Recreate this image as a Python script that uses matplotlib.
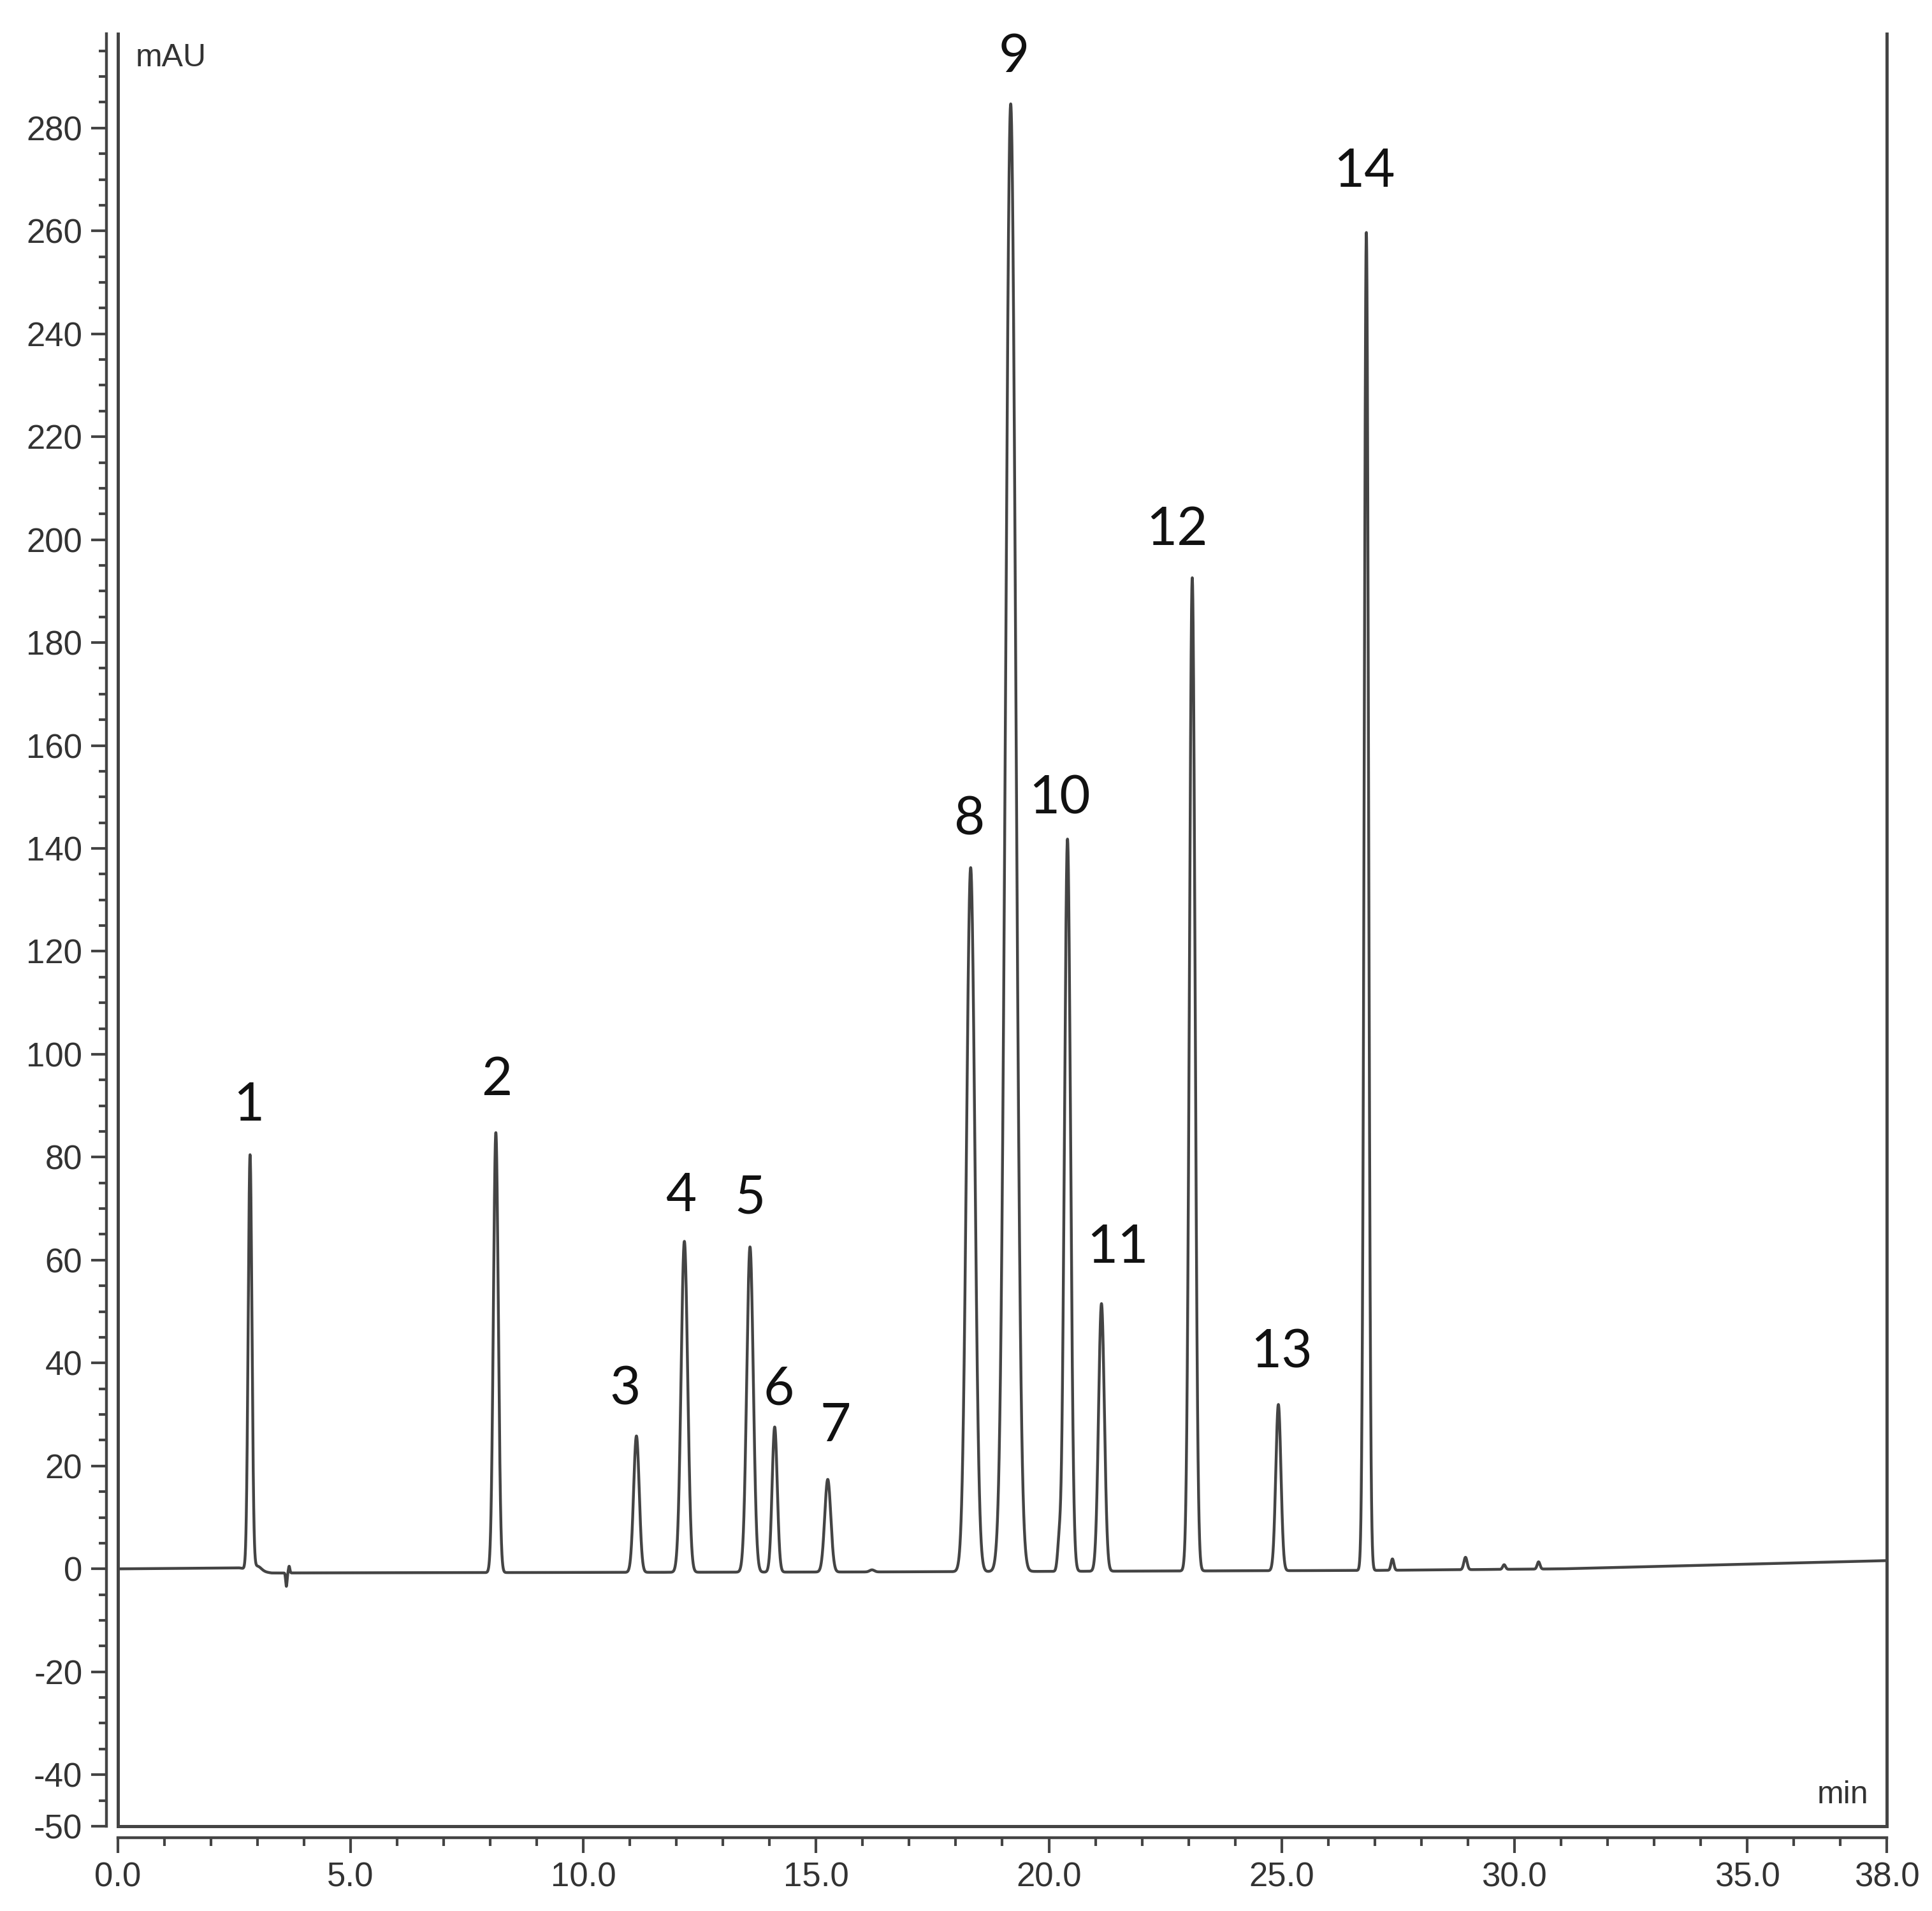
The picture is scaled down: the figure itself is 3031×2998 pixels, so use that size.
#!/usr/bin/env python3
import numpy as np
import matplotlib
matplotlib.use("Agg")
import matplotlib.pyplot as plt
from matplotlib import font_manager
from matplotlib.ticker import FixedLocator, MultipleLocator

# Peak table: retention time (min), height (mAU), width sigma (min)
peak_labels = ["1", "2", "3", "4", "5", "6", "7", "8", "9", "10", "11", "12", "13", "14"]
peak_rt = [2.84, 8.12, 11.14, 12.17, 13.58, 14.11, 15.25, 18.32, 19.18, 20.40, 21.13, 23.08, 24.93, 26.82]
peak_height = [80.5, 85.5, 26.5, 64.3, 63.2, 28.2, 18.0, 136.8, 285.2, 142.3, 52.0, 193.0, 32.3, 260.0]
peak_sigma = [0.040, 0.052, 0.060, 0.070, 0.070, 0.055, 0.065, 0.090, 0.110, 0.065, 0.062, 0.060, 0.055, 0.046]

# label anchor positions (data units)
label_x = [2.81, 8.14, 10.90, 12.09, 13.58, 14.19, 15.41, 18.30, 19.25, 20.23, 21.48, 22.75, 25.00, 26.78]
label_y = [89.9, 94.9, 34.8, 72.4, 71.9, 34.8, 27.6, 145.5, 293.7, 149.6, 62.3, 201.8, 42.0, 271.4]

# minor features: shoulder / spikes / small late peaks
minor_rt = [3.00, 3.62, 3.68, 16.20, 20.22, 27.38, 28.95, 29.78, 30.52]
minor_height = [0.9, -2.6, 1.3, 0.4, 5.0, 2.2, 2.4, 0.9, 1.4]
minor_sigma = [0.08, 0.015, 0.015, 0.05, 0.035, 0.03, 0.035, 0.03, 0.03]

# baseline drift points
base_t = [0.0, 2.6, 3.3, 16.0, 27.0, 31.0, 38.0]
base_v = [0.0, 0.2, -0.8, -0.6, -0.3, 0.0, 1.6]

names = {f.name for f in font_manager.fontManager.ttflist}
tick_font = "Liberation Sans Narrow" if "Liberation Sans Narrow" in names else "Liberation Sans"
plt.rcParams["axes.unicode_minus"] = False

t = np.linspace(0, 38, 30001)
signal = np.interp(t, base_t, base_v)
for rt, h, s in zip(peak_rt + minor_rt, peak_height + minor_height, peak_sigma + minor_sigma):
    signal += h * np.exp(-0.5 * ((t - rt) / s) ** 2)

fig = plt.figure(figsize=(30.31, 29.98), dpi=100)
ax = fig.add_axes([0.0610, 0.0444, 0.9156, 0.9379])

ax.plot(t, signal, color="#444444", linewidth=3.2, solid_joinstyle="round")

for lab, x, y in zip(peak_labels, label_x, label_y):
    ax.text(x, y, lab, ha="center", va="center", fontsize=60, family="Lato", color="#111111")

ax.set_xlim(0, 38)
ax.set_ylim(-50, 298.3)

# offset axis lines like the instrument software
for side in ["top", "right"]:
    ax.spines[side].set_visible(False)
for side in ["left", "bottom"]:
    ax.spines[side].set_position(("outward", 13))
    ax.spines[side].set_linewidth(3.2)
    ax.spines[side].set_color("#444444")

# inner frame (left, bottom, right)
ax.plot([0, 0, 1, 1], [1, 0, 0, 1], transform=ax.transAxes, clip_on=False,
        color="#444444", linewidth=3.6, solid_joinstyle="miter")

xt = [0, 5, 10, 15, 20, 25, 30, 35, 38]
ax.xaxis.set_major_locator(FixedLocator(xt))
ax.set_xticklabels([f"{v:.1f}" for v in xt])
ax.xaxis.set_minor_locator(MultipleLocator(1))

yt = [-50] + list(range(-40, 281, 20))
ax.yaxis.set_major_locator(FixedLocator(yt))
ax.set_yticklabels([str(v) for v in yt])
ax.yaxis.set_minor_locator(MultipleLocator(5))

ax.tick_params(which="major", length=17, width=3.0, color="#444444", pad=10,
               labelsize=38, labelcolor="#333333")
ax.tick_params(which="minor", length=9, width=3.0, color="#444444")
for lbl in ax.get_xticklabels() + ax.get_yticklabels():
    lbl.set_family(tick_font)

ax.text(0.010, 0.9865, "mAU", transform=ax.transAxes, ha="left", va="center",
        fontsize=36, family=tick_font, color="#333333")
ax.text(0.9895, 0.0174, "min", transform=ax.transAxes, ha="right", va="center",
        fontsize=36, family=tick_font, color="#333333")

fig.savefig("out.png", dpi=100, facecolor="white")
